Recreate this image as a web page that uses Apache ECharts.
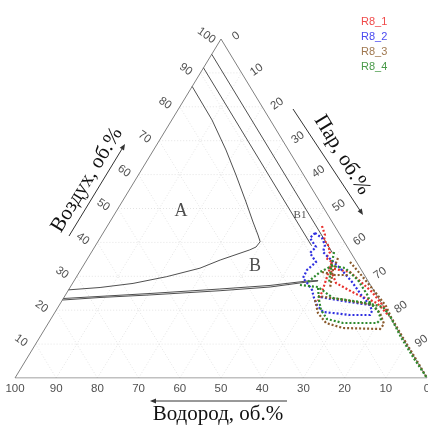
<!DOCTYPE html>
<html><head><meta charset="utf-8">
<script src="https://cdn.jsdelivr.net/npm/echarts@6/dist/echarts.min.js"></script>
<style>html,body{margin:0;padding:0;background:#fff}#c{width:428px;height:425px}</style>
</head><body><div id="c"></div>
<script>
// Ternary data: every point is [air %, steam %]; hydrogen = 100 - air - steam
const ticks = [0,10,20,30,40,50,60,70,80,90,100];
const gridSteps = [10,20,30,40,50,60,70,80,90];
const seriesNames = ['R8_1','R8_2','R8_3','R8_4'];
const seriesColors = ['#e8322e','#2f2fe0','#8a5a2c','#2e8a2e'];
const legendColors = ['#f04a4a','#4a4af0','#a07850','#4a9a4a'];

// boundary curves
const curveA = [[86,0],[76.11,9.77],[67.26,17.58],[59.88,23.7],[51.92,30.11],[46.02,34.76],[42.18,37.89],[40.2,39.4],[38.64,39.18],[37.8,38.1],[34.8,32.4],[32.4,28.7],[29.9,21.9],[27.9,14.7],[26.7,7.3],[26,0]];
const lineB1a = [[95.5,0],[37,58.5]];
const lineB1b = [[91.5,0],[39,52.5]];
const lowerLine1 = [[23,0],[23.75,8.76],[24.5,20.5],[25.75,36.9],[26.84,48.5],[28.3,56.65],[28.6,59.2]];
const lowerLine2 = [[23.45,0],[24.93,20.3],[26.25,36.6],[27.3,48.25],[28.6,56.5],[28.76,59.2]];

// R8_1 (red)
const r81a = [[44.84,52.09],[42.18,54.15],[40.71,54.65],[39.23,56.35],[37.17,57.88],[35.4,57.79],[34.22,59.83],[32.45,60.24],[28.02,63.9],[24.78,70.38],[22.12,76.8],[18.29,81.64]];
const r81b = [[34.22,59.83],[29.79,60.83],[25.37,61.83],[22.71,62.18]];
const r81c = [[32.45,60.24],[31.27,65.68],[25.37,73.97],[19.47,80.8]];
// R8_2 (blue)
const r82a = [[42.77,51.43],[41.3,50.95],[38.64,53.74],[36.87,53.16],[34.22,55.95],[31.86,54.94],[29.5,55.15],[27.73,57.25],[25.96,59.11],[23.6,60.77],[21.53,62.53],[19.47,65.03],[19.17,67.59],[18.58,72.02],[18.58,76.88],[19.76,76.77],[21.53,75.4],[22.71,68.25],[23.89,62.08]];
const r82b = [[42.77,51.43],[41.3,53.86],[39.23,55.62],[37.17,56.18],[35.99,57.73],[32.45,62.66],[28.32,67.64],[24.19,72.13],[21.53,75.4]];
// R8_3 (brown)
const r83a = [[31.27,58.88],[30.38,62.48],[30.38,65.64]];
const r83b = [[34.22,64.2],[30.09,69.18],[25.37,74.7],[21.24,79.43],[17.99,82.26],[12,88.1],[6,94.1],[0,100]];
const r83c = [[23.01,61.32],[19.17,63.95],[16.22,67.38],[14.75,72.24],[14.45,81.36],[15.93,81.6],[19.17,79],[21.53,76.12],[23.01,68.6],[24.19,61.45]];
const r83d = [[35.4,60.7],[31.86,61.25],[26.55,63.19]];
// R8_4 (green)
const r84a = [[27.43,55.45],[26.84,60.12],[23.6,65.38],[22.12,74.38],[20.94,78.85],[18.29,81.88],[12,87.7],[6,93.7],[0,100]];
const r84b = [[26.55,60.27],[23.01,62.29],[20.06,64.24],[17.4,67.03],[16.22,71.5],[16.22,79.75],[17.4,80.13],[19.76,78.23],[22.12,75.11]];
const r84c = [[28.32,56.96],[31.27,58.4],[33.04,60.42],[32.45,63.88],[28.91,68.79],[24.19,73.59],[22.12,75.11]];
const r84d = [[37.17,58.85],[32.45,60.48],[28.02,62.2]];

const regionLabels = [['A',49.26,15.66,18],['B',33.04,41.73,18],['B1',48.08,45.13,11]];

// ---- build ----
function xy(p){ return [p[1] + p[0]/2, p[0]]; }
function poly(list){ return list.map(s => ({coords: s.map(xy)})); }

const gridSegs = [];
gridSteps.forEach(g => {
  gridSegs.push([[g,0],[g,100-g]]);
  gridSegs.push([[0,g],[100-g,g]]);
  gridSegs.push([[0,100-g],[100-g,0]]);
});
const triangle = [[[0,0],[0,100],[100,0],[0,0]]];

function linesSeries(name, segs, color, width, type, z){
  return {type:'lines', name:name, coordinateSystem:'cartesian2d', polyline:true, silent:true,
    animation:false, z:z, data: poly(segs),
    lineStyle:{color:color, width:width, type:type, opacity:1}};
}

const colored = [[r81a,r81b,r81c],[r82a,r82b],[r83a,r83b,r83c,r83d],[r84a,r84b,r84c,r84d]];

const series = [
  linesSeries('grid', gridSegs, '#e4e4e4', 1, [1,2], 1),
  linesSeries('edges', triangle, '#808080', 1, 'solid', 2),
  linesSeries('bounds', [curveA, lineB1a, lineB1b, lowerLine1, lowerLine2], '#505050', 1, 'solid', 3)
];
colored.forEach((segs,i) => series.push(linesSeries(seriesNames[i], segs, seriesColors[i], 2.2, [2,2], 4+i)));

const tickFont = {fontFamily:'Liberation Sans', fontSize:11.5, color:'#222'};
function tickSeries(items, offset, rotate){
  return {type:'scatter', symbolSize:0, silent:true, animation:false, z:10,
    data: items,
    label:Object.assign({show:true, position:'inside', offset:offset, rotate:rotate,
      align:'center', verticalAlign:'middle', formatter: p => p.data.t}, tickFont)};
}
series.push(tickSeries(ticks.map(h => ({value: xy([0,100-h]), t:String(h)})), [0,11], 0));
series.push(tickSeries(ticks.filter(a=>a>0).map(a => ({value: xy([a,0]), t:String(a)})), [-14,5.5], -35));
series.push(tickSeries(ticks.filter(s=>s<100).map(s => ({value: xy([100-s,s]), t:String(s)})), [14,6.2], 35));
series.push({type:'scatter', symbolSize:0, silent:true, animation:false, z:10,
  data: regionLabels.map(r => ({value: xy([r[1],r[2]]), t:r[0],
    label:{fontSize:r[3]}})),
  label:{show:true, position:'inside', align:'center', verticalAlign:'middle',
    fontFamily:'Liberation Serif', color:'#222', formatter: p => p.data.t}});

function arrow(x1,y1,x2,y2){
  const dx=x2-x1, dy=y2-y1, L=Math.hypot(dx,dy), ux=dx/L, uy=dy/L, hl=6, hw=2.5;
  const bx=x2-ux*hl, by=y2-uy*hl;
  return [
    {type:'line', silent:true, shape:{x1:x1,y1:y1,x2:bx,y2:by}, style:{stroke:'#333', lineWidth:1}},
    {type:'polygon', silent:true, shape:{points:[[x2,y2],[bx-uy*hw,by+ux*hw],[bx+uy*hw,by-ux*hw]]}, style:{fill:'#333'}}
  ];
}
function title(text,x,y,rot){
  return {type:'text', silent:true, x:x, y:y, rotation:rot,
    style:{text:text, font:'21px "Liberation Serif"', fill:'#111', textAlign:'center', textVerticalAlign:'middle', align:'center', verticalAlign:'middle'}};
}
const ang = Math.atan2(338.5, 206.5);

const chart = echarts.init(document.getElementById('c'), null, {renderer:'canvas'});
chart.setOption({
  animation:false,
  backgroundColor:'#fff',
  grid:{left:15, right:1, top:39, bottom:47},
  xAxis:{type:'value', min:0, max:100, show:false},
  yAxis:{type:'value', min:0, max:100, show:false},
  legend:{orient:'vertical', left:351, top:11, icon:'none', itemWidth:0, itemHeight:10, itemGap:4.3,
    textStyle:{fontFamily:'Liberation Sans', fontSize:11},
    data: seriesNames.map((n,i) => ({name:n, textStyle:{color:legendColors[i]}}))},
  series: series,
  graphic: [].concat(
    arrow(69,236,125,144),
    arrow(293,109,363,215),
    arrow(287,401,150,401),
    [title('Воздух, об.%', 87, 180, ang), title('Пар, об.%', 342, 155, -ang), title('Водород, об.%', 218, 414, 0)]
  )
});
</script></body></html>
